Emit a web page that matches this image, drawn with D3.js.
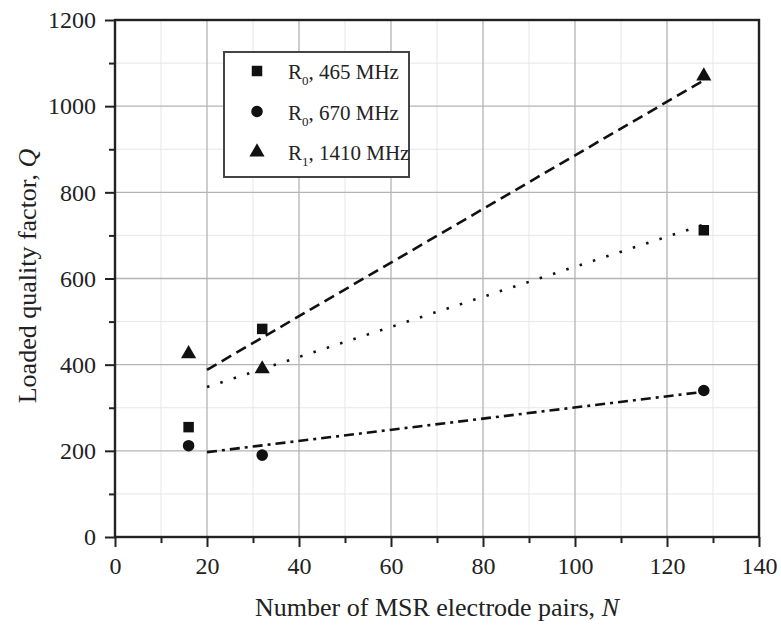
<!doctype html>
<html>
<head>
<meta charset="utf-8">
<script src="https://cdnjs.cloudflare.com/ajax/libs/d3/7.8.5/d3.min.js"></script>
<style>
  body { margin: 0; background: #fff; }
  text { font-family: "Liberation Serif", "DejaVu Serif", serif; fill: #222; }
  .grid-major { stroke: #b4b4b4; stroke-width: 1.3; }
  .grid-minor { stroke: #e6e6e6; stroke-width: 1; }
  .fit { fill: none; stroke: #111; stroke-width: 2.6; }
</style>
</head>
<body>
<svg width="781" height="626"></svg>
<script>
// measured points
var pairsN = [16, 32, 128];
var q465 = [255, 483, 712];
var q670 = [212, 190, 340];
var q1410 = [425, 390, 1070];

// fitted lines, endpoints
var fitN = [20, 128];
var fit465 = [348, 725];
var fit670 = [197, 337];
var fit1410 = [388, 1060];

var xTicks = [0, 20, 40, 60, 80, 100, 120, 140];
var yTicks = [0, 200, 400, 600, 800, 1000, 1200];

var svg = d3.select("svg");
var x = d3.scaleLinear().domain([0, 140]).range([115, 759]);
var y = d3.scaleLinear().domain([0, 1200]).range([537, 20]);

// grid
var xMinor = d3.range(10, 140, 20), yMinor = d3.range(100, 1200, 200);
svg.append("g").selectAll("line").data(xMinor).enter().append("line")
  .attr("class", "grid-minor")
  .attr("x1", d => x(d)).attr("x2", d => x(d)).attr("y1", y(0)).attr("y2", y(1200));
svg.append("g").selectAll("line").data(yMinor).enter().append("line")
  .attr("class", "grid-minor")
  .attr("y1", d => y(d)).attr("y2", d => y(d)).attr("x1", x(0)).attr("x2", x(140));
svg.append("g").selectAll("line").data(xTicks.slice(1, -1)).enter().append("line")
  .attr("class", "grid-major")
  .attr("x1", d => x(d)).attr("x2", d => x(d)).attr("y1", y(0)).attr("y2", y(1200));
svg.append("g").selectAll("line").data(yTicks.slice(1, -1)).enter().append("line")
  .attr("class", "grid-major")
  .attr("y1", d => y(d)).attr("y2", d => y(d)).attr("x1", x(0)).attr("x2", x(140));

// axes
function styleAxis(g) {
  g.select(".domain").remove();
  g.selectAll("line").attr("stroke", "#222").attr("stroke-width", 2);
  g.selectAll("text").attr("font-size", "24px").attr("fill", "#222")
    .attr("font-family", "Liberation Serif, serif");
}
svg.append("g").attr("transform", "translate(0," + y(0) + ")")
  .call(d3.axisBottom(x).tickValues(xMinor).tickSize(6).tickFormat(""))
  .call(styleAxis);
svg.append("g").attr("transform", "translate(0," + y(0) + ")")
  .call(d3.axisBottom(x).tickValues(xTicks).tickSize(10).tickPadding(10).tickFormat(d3.format("d")))
  .call(styleAxis);
svg.append("g").attr("transform", "translate(" + x(0) + ",0)")
  .call(d3.axisLeft(y).tickValues(yMinor).tickSize(6).tickFormat(""))
  .call(styleAxis);
svg.append("g").attr("transform", "translate(" + x(0) + ",0)")
  .call(d3.axisLeft(y).tickValues(yTicks).tickSize(10).tickPadding(9).tickFormat(d3.format("d")))
  .call(styleAxis);

svg.append("rect")
  .attr("x", x(0)).attr("y", y(1200))
  .attr("width", x(140) - x(0)).attr("height", y(0) - y(1200))
  .attr("fill", "none").attr("stroke", "#222").attr("stroke-width", 2.4);

// fit lines
var line = d3.line().x(d => x(d[0])).y(d => y(d[1]));
function fitLine(vals, dash) {
  svg.append("path").attr("class", "fit")
    .attr("d", line(fitN.map((n, i) => [n, vals[i]])))
    .attr("stroke-dasharray", dash);
}
fitLine(fit465, "2.5,11.5");
fitLine(fit670, "10,5,3,5");
fitLine(fit1410, "11,6");

// markers
var series = [
  { vals: q465, sym: d3.symbolSquare, size: 110 },
  { vals: q670, sym: d3.symbolCircle, size: 105 },
  { vals: q1410, sym: d3.symbolTriangle, size: 100 }
];
series.forEach(function (s) {
  svg.append("g").selectAll("path").data(pairsN).enter().append("path")
    .attr("d", d3.symbol().type(s.sym).size(s.size))
    .attr("transform", (d, i) => "translate(" + x(d) + "," + y(s.vals[i]) + ")")
    .attr("fill", "#111");
});

// legend
var lg = svg.append("g");
lg.append("rect").attr("x", 224).attr("y", 52).attr("width", 185).attr("height", 125)
  .attr("fill", "#fff").attr("stroke", "#444").attr("stroke-width", 2);
var legendRows = [
  { sym: d3.symbolSquare, size: 110, sub: "0", label: ", 465 MHz" },
  { sym: d3.symbolCircle, size: 105, sub: "0", label: ", 670 MHz" },
  { sym: d3.symbolTriangle, size: 100, sub: "1", label: ", 1410 MHz" }
];
legendRows.forEach(function (r, i) {
  var cy = 71 + i * 40.5;
  lg.append("path").attr("d", d3.symbol().type(r.sym).size(r.size))
    .attr("transform", "translate(257," + cy + ")").attr("fill", "#111");
  var t = lg.append("text").attr("x", 288).attr("y", cy + 8).attr("font-size", "21px");
  t.append("tspan").text("R");
  t.append("tspan").attr("dy", 6).attr("font-size", "13px").text(r.sub);
  t.append("tspan").attr("dy", -6).text(r.label);
});

// axis titles
var xt = svg.append("text").attr("x", 437).attr("y", 616).attr("text-anchor", "middle")
  .attr("font-size", "26px");
xt.append("tspan").text("Number of MSR electrode pairs, ");
xt.append("tspan").attr("font-style", "italic").text("N");

var yt = svg.append("text").attr("transform", "translate(36,276) rotate(-90)")
  .attr("text-anchor", "middle").attr("font-size", "26px");
yt.append("tspan").text("Loaded quality factor, ");
yt.append("tspan").attr("font-style", "italic").text("Q");
</script>
</body>
</html>
